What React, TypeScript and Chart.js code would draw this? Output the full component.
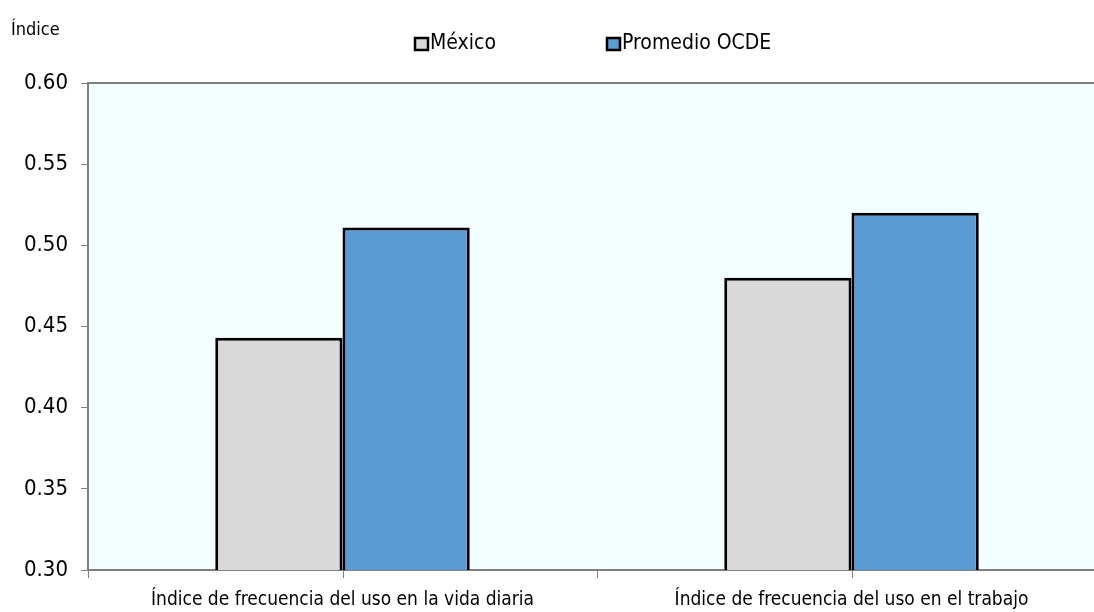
import React, { useEffect, useRef } from "react";
import { Chart, registerables } from "chart.js";

Chart.register(...registerables);

const categories = [
  "Índice de frecuencia del uso en la vida diaria",
  "Índice de frecuencia del uso en el trabajo",
];
const seriesNames = ["México", "Promedio OCDE"];
const mexicoValues = [0.443, 0.48];
const ocdeValues = [0.511, 0.52];
const yTicks = [0.3, 0.35, 0.4, 0.45, 0.5, 0.55, 0.6];

const FONT = "'Liberation Sans Narrow', 'Arial Narrow', 'DejaVu Sans Condensed', sans-serif";
const AXIS_GRAY = "#808080";
const PLOT_BG = "#F2FEFF";
const COLORS = ["#D9D9D9", "#5B9BD5"];

const decorPlugin = {
  id: "decor",
  beforeDraw(chart: any) {
    const { ctx, chartArea } = chart;
    ctx.save();
    ctx.fillStyle = PLOT_BG;
    ctx.fillRect(chartArea.left, chartArea.top, chartArea.right - chartArea.left, chartArea.bottom - chartArea.top);
    ctx.restore();
  },
  afterDraw(chart: any) {
    const { ctx, chartArea } = chart;
    const xScale = chart.scales.x;
    ctx.save();
    // frame top and right edges
    ctx.strokeStyle = AXIS_GRAY;
    ctx.lineWidth = 2;
    ctx.beginPath();
    ctx.moveTo(chartArea.left, chartArea.top);
    ctx.lineTo(chartArea.right, chartArea.top);
    ctx.lineTo(chartArea.right, chartArea.bottom);
    ctx.stroke();

    // category axis tick marks: boundaries and centres
    ctx.lineWidth = 1;
    const n = categories.length;
    const step = (chartArea.right - chartArea.left) / n;
    for (let i = 0; i < n; i++) {
      const c = xScale.getPixelForValue(i);
      const xs = [c - step / 2, c];
      if (i === n - 1) xs.push(c + step / 2);
      for (const x of xs) {
        const px = Math.round(x) + 0.5;
        ctx.beginPath();
        ctx.moveTo(px, chartArea.bottom);
        ctx.lineTo(px, chartArea.bottom + 8);
        ctx.stroke();
      }
    }

    // axis title
    ctx.fillStyle = "#000";
    ctx.font = `18px ${FONT}`;
    ctx.textBaseline = "alphabetic";
    ctx.textAlign = "left";
    ctx.fillText("Índice", 11, 35);

    // legend
    const legendX = [415, 607];
    const legendY = 44;
    ctx.font = `21px ${FONT}`;
    ctx.textBaseline = "middle";
    chart.data.datasets.forEach((ds: any, i: number) => {
      const x = legendX[i];
      ctx.fillStyle = ds.backgroundColor;
      ctx.fillRect(x, legendY - 6, 13, 12);
      ctx.strokeStyle = "#000";
      ctx.lineWidth = 2.5;
      ctx.strokeRect(x, legendY - 6, 13, 12);
      ctx.fillStyle = "#000";
      ctx.fillText(ds.label, x + 15, legendY);
    });
    ctx.restore();
  },
};

export default function App() {
  const ref = useRef<HTMLCanvasElement | null>(null);

  useEffect(() => {
    document.body.style.margin = "0";
    const canvas = ref.current;
    if (!canvas) return;
    const chart = new Chart(canvas, {
      type: "bar",
      data: {
        labels: categories,
        datasets: [
          {
            label: seriesNames[0],
            data: mexicoValues,
            backgroundColor: COLORS[0],
            borderColor: "#000",
            borderWidth: 3,
            borderSkipped: false,
          },
          {
            label: seriesNames[1],
            data: ocdeValues,
            backgroundColor: COLORS[1],
            borderColor: "#000",
            borderWidth: 3,
            borderSkipped: false,
          },
        ],
      },
      options: {
        responsive: false,
        animation: false,
        layout: { padding: { top: 83, right: 9, bottom: 0, left: 0 } },
        plugins: {
          legend: { display: false },
          title: { display: false },
          tooltip: { enabled: false },
        },
        datasets: {
          bar: { categoryPercentage: 0.5, barPercentage: 1.0 },
        },
        scales: {
          x: {
            grid: { display: false },
            border: { display: true, color: AXIS_GRAY, width: 2 },
            ticks: {
              color: "#000",
              font: { family: FONT, size: 19 },
              padding: 11,
              maxRotation: 0,
              autoSkip: false,
            },
            afterFit(scale: any) {
              scale.height = 42;
            },
          },
          y: {
            min: 0.3,
            max: 0.6,
            afterBuildTicks(scale: any) {
              scale.ticks = yTicks.map((v) => ({ value: v }));
            },
            grid: {
              drawOnChartArea: false,
              drawTicks: true,
              tickLength: 7,
              color: AXIS_GRAY,
              lineWidth: 1,
            },
            border: { display: true, color: AXIS_GRAY, width: 2 },
            ticks: {
              color: "#000",
              font: { family: FONT, size: 22 },
              padding: 13,
              callback: (v: any) => Number(v).toFixed(2),
            },
            afterFit(scale: any) {
              scale.width = 88;
            },
          },
        },
      },
      plugins: [decorPlugin],
    });
    return () => chart.destroy();
  }, []);

  return (
    <div
      style={{
        position: "fixed",
        left: 0,
        top: 0,
        width: 1094,
        height: 612,
        overflow: "hidden",
        background: "#fff",
      }}
    >
      <canvas ref={ref} width={1115} height={612} style={{ width: 1115, height: 612, display: "block" }} />
    </div>
  );
}
